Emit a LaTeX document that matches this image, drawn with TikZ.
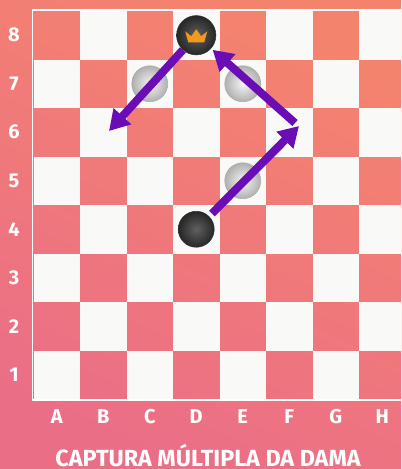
\documentclass[tikz,border=0pt]{standalone}
\usepackage{fontspec}
\setmainfont{Fira Sans}
\usetikzlibrary{arrows.meta}
\definecolor{fundoA}{HTML}{F4836E}
\definecolor{fundoB}{HTML}{EB6E87}
\definecolor{casaclara}{HTML}{F9F9F7}
\definecolor{roxo}{HTML}{6A0DB5}
\definecolor{laranja}{HTML}{F39A1E}
\begin{document}
\begin{tikzpicture}[x=0.75pt, y=-0.75pt, line join=round, line cap=round,
    clara/.style={fill=casaclara},
    rotulo/.style={text=white, font=\bfseries\fontsize{15}{15}\selectfont},
    titulo/.style={text=white, inner sep=0pt, font=\bfseries\fontsize{17.5}{17.5}\selectfont},
    preta/.style={circle, inner sep=0pt, minimum size=27pt, inner color=gray!75!black, outer color=black!85, draw=black!80, line width=0.4pt},
    cinza/.style={circle, inner sep=0pt, minimum size=27pt, inner color=white!92!gray, outer color=gray!62, draw=gray!65, line width=0.4pt},
    dama/.style={preta, minimum size=29.5pt},
    seta/.style={roxo, line width=6pt, line cap=butt, -{Triangle[length=15pt, width=17pt]}}]
	
	\useasboundingbox (0,0) rectangle (401,469);
	\shade[top color=fundoA, bottom color=fundoB, shading angle=-25] (0,0) rectangle (401,469);
	
	% casas claras
	\begin{scope}
		\clip (0,0) rectangle (401,469);
		\foreach \c in {0,...,7}
			\foreach \r in {0,...,7}{
				\pgfmathtruncatemacro{\impar}{mod(\c+\r,2)}
				\ifnum\impar=1 \fill[clara] ({33.5+46.5*\c},{11+48.5*\r}) rectangle +(46.5,48.5); \fi
			}
		\draw[white, line width=1.1pt, line cap=butt] (420,10) -- (32.6,10) -- (32.6,399.8) -- (420,399.8);
	\end{scope}
	
	% rotulos
	\foreach \l [count=\i from 0] in {A,...,H}
		\node[rotulo] (col\l) at ({56.75+46.5*\i},416.5) {\l};
	\foreach \n in {1,...,8}
		\node[rotulo] (lin\n) at (14,{374.75-48.5*(\n-1)}) {\n};
	\node[titulo] (titulo) at (208,456) {CAPTURA MÚLTIPLA DA DAMA};
	
	% pecas
	\node[cinza] (c7) at (149.75,83.75) {};
	\node[cinza] (e7) at (242.75,83.75) {};
	\node[cinza] (e5) at (242.75,180.75) {};
	\node[preta] (d4) at (196.25,229.25) {};
	\node[dama] (dama) at (196.25,35.25) {};
	\fill[laranja, shift={(dama.center)}] (-8,7) -- (-11,-4) -- (-5,1) -- (0,-6) -- (5,1) -- (11,-4) -- (8,7) -- cycle;
	
	% saltos
	\coordinate (f6a) at (299,126);
	\coordinate (f6b) at (295,123);
	\coordinate (b6) at (109,131);
	\draw[seta, shorten <=3pt] (d4) -- (f6a);
	\draw[seta, shorten >=1.5pt] (f6b) -- (dama);
	\draw[seta] (dama) -- (b6);
	
\end{tikzpicture}
\end{document}
